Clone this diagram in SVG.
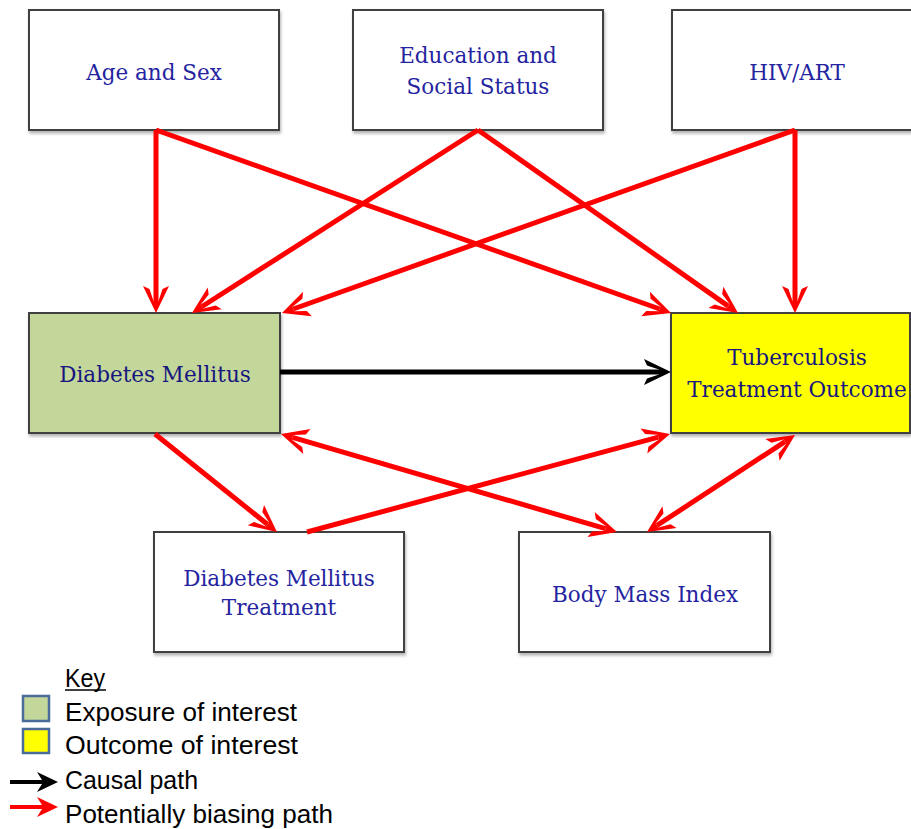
<svg xmlns="http://www.w3.org/2000/svg" width="911" height="829" viewBox="0 0 911 829">
<style>
.box{stroke:#404040;stroke-width:2;filter:url(#sh)}
.w{fill:#ffffff}
.lbl{font-family:"DejaVu Serif","Liberation Serif",serif;font-size:21.5px;fill:#2424a0;text-anchor:middle}
.dk{fill:#16167e}
.red{stroke:#ff0000;stroke-width:5;fill:none}
.blk{stroke:#000000;stroke-width:5;fill:none}
.key{font-family:"Liberation Sans",Arial,sans-serif;font-size:25px;fill:#000}
</style>
<defs>
<filter id="sh" x="-10%" y="-10%" width="130%" height="140%">
<feDropShadow dx="1" dy="2.5" stdDeviation="1.5" flood-color="#000" flood-opacity="0.3"/>
</filter>
<marker id="ar" markerUnits="userSpaceOnUse" viewBox="-16 -14 30 28" markerWidth="30" markerHeight="28" refX="0" refY="0" orient="auto-start-reverse">
<path d="M12,0 L-15,-13 L-12,-6.5 L0,-2.5 L0,2.5 L-12,6.5 L-15,13 Z" fill="#ff0000"/>
</marker>
<marker id="ab" markerUnits="userSpaceOnUse" viewBox="-16 -14 30 28" markerWidth="30" markerHeight="28" refX="0" refY="0" orient="auto">
<path d="M12,0 L-15,-13 L-12,-6.5 L0,-2.5 L0,2.5 L-12,6.5 L-15,13 Z" fill="#000000"/>
</marker>
<marker id="kr" markerUnits="userSpaceOnUse" viewBox="-14 -12 26 24" markerWidth="26" markerHeight="24" refX="0" refY="0" orient="auto">
<path d="M9,0 L-12,-10 L-7,-2 L0,-2 L0,2 L-7,2 L-12,10 Z" fill="#ff0000"/>
</marker>
<marker id="kb" markerUnits="userSpaceOnUse" viewBox="-14 -12 26 24" markerWidth="26" markerHeight="24" refX="0" refY="0" orient="auto">
<path d="M9,0 L-12,-10 L-7,-2 L0,-2 L0,2 L-7,2 L-12,10 Z" fill="#000000"/>
</marker>
</defs>

<g id="node-age">
<rect class="box w" x="29" y="10" width="250" height="120"/>
<text class="lbl" x="154" y="80">Age and Sex</text>
</g>
<g id="node-education">
<rect class="box w" x="353" y="10" width="250" height="120"/>
<text class="lbl" x="478" y="63">Education and</text>
<text class="lbl" x="478" y="94">Social Status</text>
</g>
<g id="node-hiv">
<rect class="box w" x="672" y="10" width="250" height="120"/>
<text class="lbl" x="797" y="80">HIV/ART</text>
</g>
<g id="node-dm">
<rect class="box" fill="#c4d79b" x="29" y="313" width="251" height="120"/>
<text class="lbl dk" x="155" y="382">Diabetes Mellitus</text>
</g>
<g id="node-tb">
<rect class="box" fill="#ffff00" x="671" y="313" width="239" height="120"/>
<text class="lbl dk" x="797" y="365">Tuberculosis</text>
<text class="lbl dk" x="797" y="397">Treatment Outcome</text>
</g>
<g id="node-dmt">
<rect class="box w" x="154" y="532" width="250" height="120"/>
<text class="lbl" x="279" y="586">Diabetes Mellitus</text>
<text class="lbl" x="279" y="615">Treatment</text>
</g>
<g id="node-bmi">
<rect class="box w" x="519" y="532" width="251" height="120"/>
<text class="lbl" x="645" y="602">Body Mass Index</text>
</g>

<g id="connectors">
<line class="red" x1="156" y1="130" x2="156" y2="301" marker-end="url(#ar)"/>
<line class="red" x1="156" y1="130" x2="659.7" y2="309" marker-end="url(#ar)"/>
<line class="red" x1="478" y1="130" x2="202.1" y2="306.5" marker-end="url(#ar)"/>
<line class="red" x1="478" y1="130" x2="728.2" y2="306.1" marker-end="url(#ar)"/>
<line class="red" x1="795" y1="130" x2="293.3" y2="309" marker-end="url(#ar)"/>
<line class="red" x1="795" y1="130" x2="795" y2="301" marker-end="url(#ar)"/>
<line class="blk" x1="280" y1="372" x2="659" y2="372" marker-end="url(#ab)"/>
<line class="red" x1="155" y1="434" x2="267.6" y2="524.5" marker-end="url(#ar)"/>
<line class="red" x1="307" y1="532" x2="658.4" y2="437.1" marker-end="url(#ar)"/>
<line class="red" x1="292.5" y1="437.4" x2="605.5" y2="528.6" marker-start="url(#ar)" marker-end="url(#ar)"/>
<line class="red" x1="785" y1="441.6" x2="657" y2="525.4" marker-start="url(#ar)" marker-end="url(#ar)"/>
</g>

<g id="key">
<text class="key" x="65" y="687" textLength="40" lengthAdjust="spacingAndGlyphs">Key</text>
<line x1="65" y1="690" x2="106" y2="690" stroke="#000" stroke-width="1.5"/>
<rect x="23" y="696" width="26" height="25" fill="#c4d79b" stroke="#4a6a9a" stroke-width="2.5"/>
<text class="key" x="65" y="721" textLength="232" lengthAdjust="spacingAndGlyphs">Exposure of interest</text>
<rect x="23" y="729" width="26" height="24" fill="#ffff00" stroke="#4a6a9a" stroke-width="2.5"/>
<text class="key" x="65" y="754" textLength="233" lengthAdjust="spacingAndGlyphs">Outcome of interest</text>
<line x1="10" y1="782" x2="49" y2="782" stroke="#000" stroke-width="4" marker-end="url(#kb)"/>
<text class="key" x="65" y="789" textLength="133" lengthAdjust="spacingAndGlyphs">Causal path</text>
<line x1="10" y1="807" x2="49" y2="807" stroke="#ff0000" stroke-width="4" marker-end="url(#kr)"/>
<text class="key" x="65" y="823" textLength="268" lengthAdjust="spacingAndGlyphs">Potentially biasing path</text>
</g>
</svg>
